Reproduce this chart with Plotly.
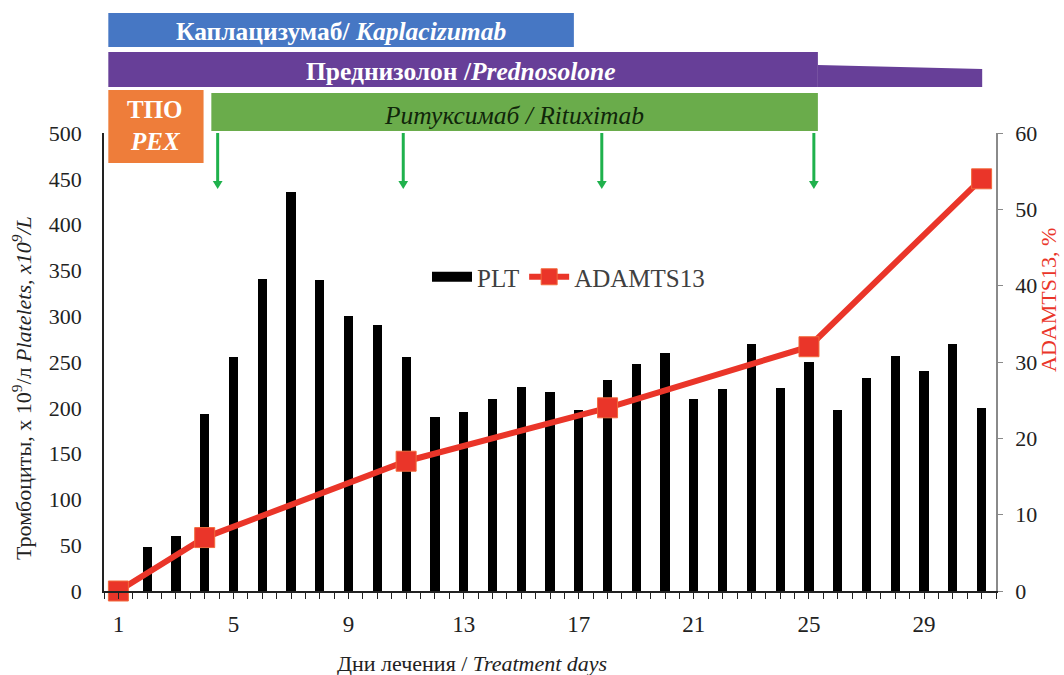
import plotly.graph_objects as go

# ---- data -------------------------------------------------------------
plt_days = list(range(2, 32))
plt_values = [48, 60, 193, 255, 341, 436, 340, 300, 290, 255,
              190, 195, 210, 223, 217, 198, 230, 248, 260, 210,
              220, 270, 222, 250, 198, 233, 257, 240, 270, 200]

adamts_days = [1, 4, 11, 18, 25, 31]
adamts_values = [0, 7, 17, 24, 32, 54]

x_tick_vals = [1, 5, 9, 13, 17, 21, 25, 29]
left_tick_vals = list(range(0, 501, 50))
right_tick_vals = list(range(0, 61, 10))

# therapy periods (in treatment days)
kaplacizumab_period = [0.65, 16.83]
prednisolone_full = [0.65, 25.31]
prednisolone_taper = [25.31, 31.02]
pex_period = [0.65, 3.96]
rituximab_period = [4.23, 25.31]
rituximab_doses = [4.45, 10.9, 17.8, 25.17]

# ---- layout helpers ---------------------------------------------------
W, H = 1064, 675
L, R, T, B = 104, 996, 133, 591


def xp(v):
    return (v - L) / (R - L)


def yp(v):
    return (B - v) / (B - T)


SERIF = "Liberation Serif, Times New Roman, serif"
BLUE = "#4677c4"
PURPLE = "#673f98"
ORANGE = "#ee7d3a"
GREEN = "#6aac4b"
ARROW_GREEN = "#1fb14c"
RED = "#ea3529"
TEXT = "#222222"

fig = go.Figure()

fig.add_trace(go.Bar(
    x=plt_days, y=plt_values, name="PLT",
    marker=dict(color="black", line=dict(width=0)),
    width=0.32, yaxis="y", showlegend=False,
))
# wide black legend key for the platelet bars
fig.add_trace(go.Scatter(
    x=[None], y=[None], name="PLT", mode="lines",
    line=dict(color="black", width=14), yaxis="y",
))

fig.add_trace(go.Scatter(
    x=adamts_days, y=adamts_values, name="ADAMTS13",
    mode="lines+markers", yaxis="y2",
    line=dict(color=RED, width=6),
    marker=dict(symbol="square", size=20, color=RED,
                line=dict(color="#f26a3c", width=1)),
    cliponaxis=False,
))

shapes = [
    dict(type="rect", xref="x", yref="paper",
         x0=kaplacizumab_period[0], x1=kaplacizumab_period[1],
         y0=yp(47), y1=yp(13), fillcolor=BLUE, line=dict(width=0)),
    dict(type="rect", xref="x", yref="paper",
         x0=prednisolone_full[0], x1=prednisolone_full[1],
         y0=yp(87), y1=yp(52), fillcolor=PURPLE, line=dict(width=0)),
    dict(type="path", xref="x", yref="paper",
         path=(f"M {prednisolone_taper[0]},{yp(87)} "
               f"L {prednisolone_taper[0]},{yp(65)} "
               f"L {prednisolone_taper[1]},{yp(69)} "
               f"L {prednisolone_taper[1]},{yp(87)} Z"),
         fillcolor=PURPLE, line=dict(width=0)),
    dict(type="rect", xref="x", yref="paper",
         x0=pex_period[0], x1=pex_period[1],
         y0=yp(163), y1=yp(90), fillcolor=ORANGE, line=dict(width=0)),
    dict(type="rect", xref="x", yref="paper",
         x0=rituximab_period[0], x1=rituximab_period[1],
         y0=yp(131), y1=yp(93), fillcolor=GREEN, line=dict(width=0)),
]

# dose arrows under the rituximab band
half_head = 0.17
for d in rituximab_doses:
    shapes.append(dict(type="line", xref="x", yref="paper",
                       x0=d, x1=d, y0=yp(133), y1=yp(182),
                       line=dict(color=ARROW_GREEN, width=3)))
    shapes.append(dict(type="path", xref="x", yref="paper",
                       path=(f"M {d - half_head},{yp(181)} "
                             f"L {d + half_head},{yp(181)} "
                             f"L {d},{yp(189)} Z"),
                       fillcolor=ARROW_GREEN, line=dict(width=0)))

annotations = [
    dict(text="<b>Каплацизумаб/ <i>Kaplacizumab</i></b>", x=xp(341), y=yp(31),
         font=dict(family=SERIF, size=25.5, color="white")),
    dict(text="<b>Преднизолон /<i>Prednosolone</i></b>", x=xp(461), y=yp(71),
         font=dict(family=SERIF, size=25.5, color="white")),
    dict(text="<i>Ритуксимаб / Rituximab</i>", x=xp(514), y=yp(115),
         font=dict(family=SERIF, size=25.5, color="#10260a")),
    dict(text="<b>ТПО</b>", x=xp(155), y=yp(109),
         font=dict(family=SERIF, size=25, color="white")),
    dict(text="<b><i>PEX</i></b>", x=xp(155), y=yp(141),
         font=dict(family=SERIF, size=25, color="white")),
    dict(text="Дни лечения / <i>Treatment days</i>", x=xp(472), y=yp(663),
         font=dict(family=SERIF, size=22, color=TEXT)),
    dict(text="ADAMTS13, %", x=xp(1048), y=yp(300), textangle=-90,
         font=dict(family=SERIF, size=22, color=RED)),
    dict(text="Тромбоциты, x 10<sup>9</sup>/л <i>Platelets, x10<sup>9</sup>/L</i>",
         x=xp(22), y=yp(388), textangle=-90,
         font=dict(family=SERIF, size=22, color=TEXT)),
]
for a in annotations:
    a.update(xref="paper", yref="paper", showarrow=False,
             xanchor="center", yanchor="middle")

fig.update_layout(
    width=W, height=H,
    margin=dict(l=L, r=W - R, t=T, b=H - B, autoexpand=False),
    paper_bgcolor="white", plot_bgcolor="white",
    font=dict(family=SERIF, size=22, color=TEXT),
    showlegend=True,
    legend=dict(orientation="h", x=xp(427), y=yp(254),
                xanchor="left", yanchor="top",
                font=dict(family=SERIF, size=25, color="#404040"),
                bgcolor="rgba(0,0,0,0)", itemwidth=40,
                tracegroupgap=0),
    bargap=0,
    shapes=shapes,
    annotations=annotations,
    xaxis=dict(
        range=[0.5, 31.5], tickvals=x_tick_vals,
        showline=True, linecolor=TEXT, linewidth=1.5,
        ticks="outside", ticklen=6, tickcolor=TEXT,
        minor=dict(dtick=0.5, tick0=0.5, ticks="outside", ticklen=6,
                   tickcolor=TEXT),
        showgrid=False, zeroline=False,
        tickfont=dict(family=SERIF, size=23, color=TEXT),
        ticklabelstandoff=6,
    ),
    yaxis=dict(
        range=[0, 500], tickvals=left_tick_vals,
        showline=True, linecolor=TEXT, linewidth=1.5,
        ticks="", showgrid=False, zeroline=False,
        tickfont=dict(family=SERIF, size=22, color=TEXT),
        ticklabelstandoff=16,
    ),
    yaxis2=dict(
        range=[0, 60], tickvals=right_tick_vals,
        overlaying="y", side="right",
        showline=True, linecolor="#8a8a8a", linewidth=1.5,
        ticks="outside", ticklen=5, tickcolor="#8a8a8a",
        showgrid=False, zeroline=False,
        tickfont=dict(family=SERIF, size=22, color=TEXT),
        ticklabelstandoff=8,
    ),
)

fig.write_html("out.html")
